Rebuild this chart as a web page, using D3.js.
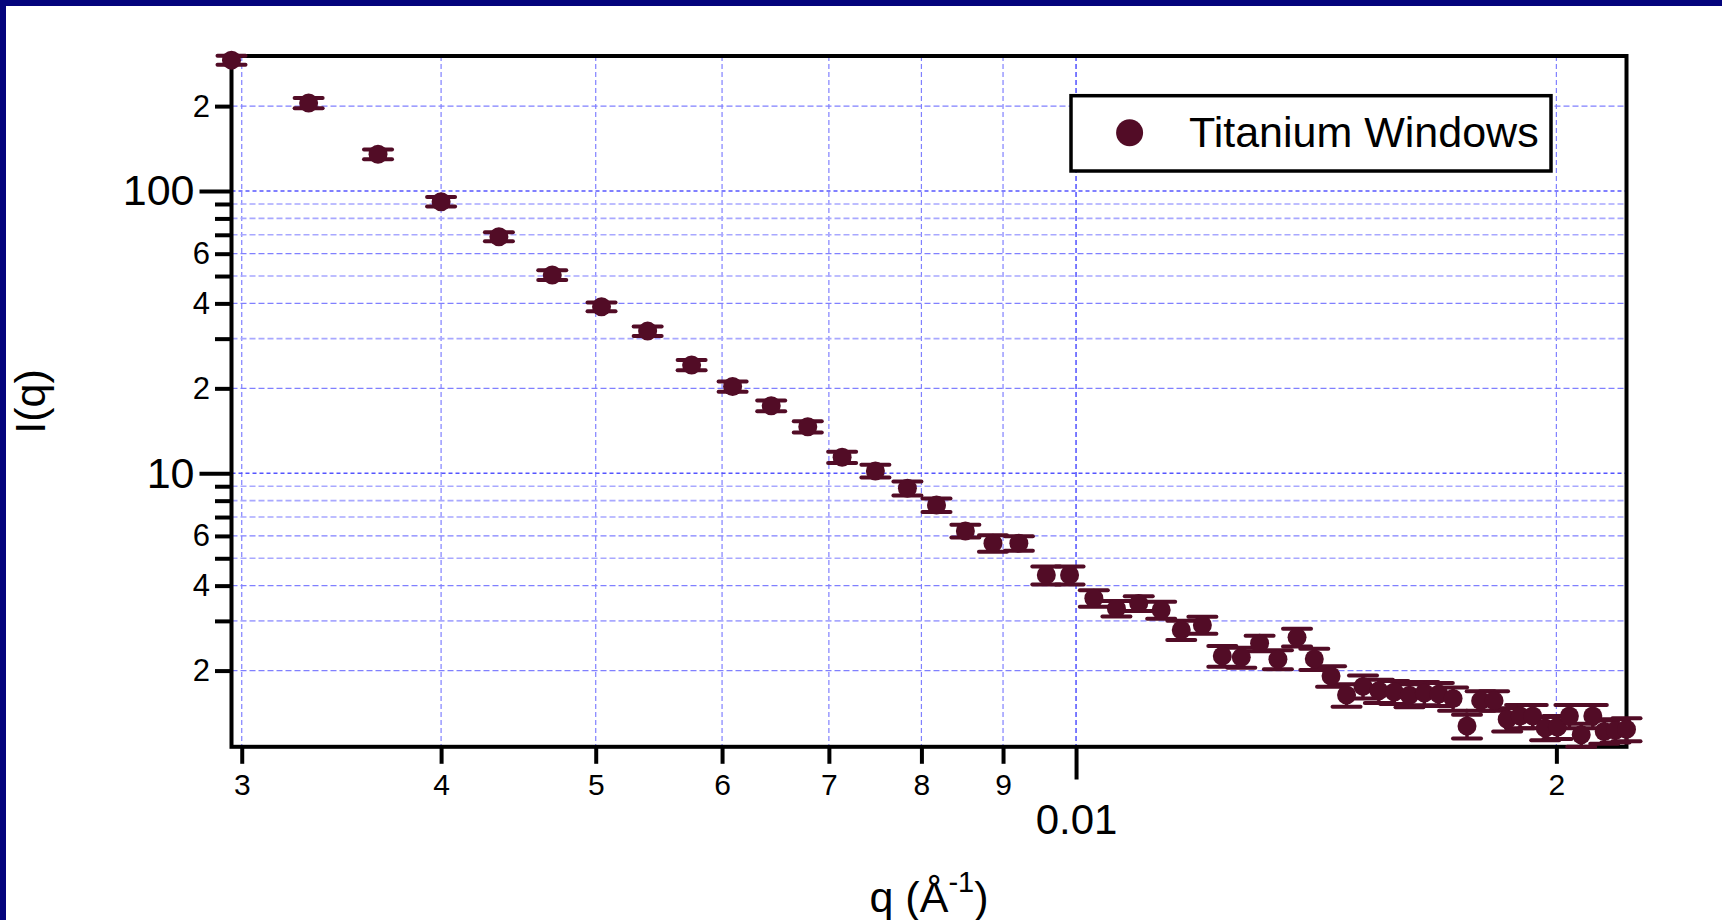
<!DOCTYPE html>
<html><head><meta charset="utf-8">
<script src="https://cdn.jsdelivr.net/npm/d3@7"></script>
<style>
html,body{margin:0;padding:0;background:#fff;overflow:hidden}
svg{display:block;font-family:"Liberation Sans",Arial,Helvetica,sans-serif}
</style></head><body>
<svg id="chart" width="1722" height="920"></svg>
<script>
// ---- data ----
const qValues = [0.002956, 0.003304, 0.003652, 0.004000, 0.004348, 0.004696, 0.005042, 0.005389, 0.005742, 0.006092,
  0.006441, 0.006790, 0.007135, 0.007486, 0.007840, 0.008176, 0.008524, 0.008870, 0.009208, 0.009580,
  0.009907, 0.01026, 0.01060, 0.010947, 0.011307, 0.01164, 0.01200, 0.01235, 0.012693, 0.013033,
  0.013382, 0.013756, 0.014103, 0.014448, 0.014775, 0.01513, 0.01548, 0.01583, 0.01618, 0.01653,
  0.01688, 0.01723, 0.01758, 0.01793, 0.01828, 0.01863, 0.01898, 0.01933, 0.01968, 0.02003,
  0.02038, 0.02073, 0.02108, 0.02143, 0.02178, 0.02213];
const intensity = [291, 205, 135, 91.7, 68.9, 50.4, 38.9, 31.9, 24.2, 20.3,
  17.36, 14.63, 11.4, 10.19, 8.85, 7.72, 6.25, 5.65, 5.65, 4.36,
  4.36, 3.61, 3.32, 3.46, 3.28, 2.785, 2.90, 2.252, 2.228, 2.50,
  2.193, 2.623, 2.20, 1.913, 1.638, 1.758, 1.696, 1.68, 1.636, 1.665,
  1.652, 1.592, 1.272, 1.565, 1.565, 1.344, 1.38, 1.38, 1.252, 1.262,
  1.38, 1.185, 1.38, 1.217, 1.228, 1.24];
const intensityErr = [10.8, 8.5, 5.4, 3.6, 2.5, 1.97, 1.4, 1.24, 1.0, 0.85,
  0.76, 0.67, 0.52, 0.53, 0.50, 0.43, 0.325, 0.38, 0.33, 0.32,
  0.32, 0.24, 0.21, 0.21, 0.23, 0.22, 0.20, 0.19, 0.18, 0.16,
  0.17, 0.19, 0.19, 0.16, 0.15, 0.165, 0.16, 0.158, 0.154, 0.157,
  0.155, 0.15, 0.123, 0.125, 0.125, 0.126, 0.13, 0.13, 0.118, 0.118,
  0.13, 0.11, 0.13, 0.115, 0.116, 0.116];
const seriesName = "Titanium Windows";

const xDomain = [0.002956, 0.02213];
const yDomain = [1.074, 301];
const xMinorTicks = [0.003, 0.004, 0.005, 0.006, 0.007, 0.008, 0.009, 0.02];
const xMinorLabels = ["3", "4", "5", "6", "7", "8", "9", "2"];
const xMajorTicks = [0.01];
const xMajorLabels = ["0.01"];
const yMajorTicks = [10, 100];
const yMajorLabels = ["10", "100"];
const yMinorTicks = [2, 3, 4, 5, 6, 7, 8, 9, 20, 30, 40, 50, 60, 70, 80, 90, 200];
const yMinorLabels = ["2", "", "4", "", "6", "", "", "", "2", "", "4", "", "6", "", "", "", "2"];

// ---- layout ----
const W = 1722, H = 920;
const pL = 231.5, pR = 1626.5, pT = 56, pB = 746.8;
const markerColor = "#520c26";

const svg = d3.select("#chart");
svg.append("rect").attr("width", W).attr("height", H).attr("fill", "#fff");
// navy frame strips
svg.append("rect").attr("x", 0).attr("y", 0).attr("width", W).attr("height", 6).attr("fill", "#04047c");
svg.append("rect").attr("x", 0).attr("y", 0).attr("width", 6).attr("height", H).attr("fill", "#04047c");

const x = d3.scaleLog().domain(xDomain).range([pL, pR]);
const y = d3.scaleLog().domain(yDomain).range([pB, pT]);

// ---- grid ----
const grid = svg.append("g");
grid.selectAll("line.vg").data(xMinorTicks).join("line")
  .attr("x1", d => x(d)).attr("x2", d => x(d)).attr("y1", pT).attr("y2", pB)
  .attr("stroke", "#8080ff").attr("stroke-width", 1.2).attr("stroke-dasharray", "5,3");
grid.selectAll("line.vgm").data(xMajorTicks).join("line")
  .attr("x1", d => x(d)).attr("x2", d => x(d)).attr("y1", pT).attr("y2", pB)
  .attr("stroke", "#5c5cff").attr("stroke-width", 1.6).attr("stroke-dasharray", "5,3");
grid.selectAll("line.hg").data(yMinorTicks).join("line")
  .attr("x1", pL).attr("x2", pR).attr("y1", d => y(d)).attr("y2", d => y(d))
  .attr("stroke", (d, i) => yMinorLabels[i] ? "#8080ff" : "#a8a8ff")
  .attr("stroke-width", (d, i) => yMinorLabels[i] ? 1.2 : 1.6)
  .attr("stroke-dasharray", "6,3");
grid.selectAll("line.hgm").data(yMajorTicks).join("line")
  .attr("x1", pL).attr("x2", pR).attr("y1", d => y(d)).attr("y2", d => y(d))
  .attr("stroke", "#5555ff").attr("stroke-width", 1.6).attr("stroke-dasharray", "4,3");

// ---- axes ----
function styleAxis(g, fs) {
  g.select(".domain").remove();
  g.selectAll(".tick line").attr("stroke", "#000").attr("stroke-width", 4);
  g.selectAll(".tick text").attr("fill", "#000").attr("font-size", fs)
    .attr("font-family", '"Liberation Sans",Arial,sans-serif');
}
svg.append("g").attr("transform", `translate(${pL},0)`)
  .call(d3.axisLeft(y).tickValues(yMinorTicks).tickSize(16.5).tickPadding(5)
    .tickFormat((d, i) => yMinorLabels[i]))
  .call(g => styleAxis(g, 31));
svg.append("g").attr("transform", `translate(${pL},0)`)
  .call(d3.axisLeft(y).tickValues(yMajorTicks).tickSize(32).tickPadding(5)
    .tickFormat((d, i) => yMajorLabels[i]))
  .call(g => styleAxis(g, 43));
svg.append("g").attr("transform", `translate(0,${pB})`)
  .call(d3.axisBottom(x).tickValues(xMinorTicks).tickSize(17).tickPadding(10)
    .tickFormat((d, i) => xMinorLabels[i]))
  .call(g => styleAxis(g, 30));
svg.append("g").attr("transform", `translate(0,${pB})`)
  .call(d3.axisBottom(x).tickValues(xMajorTicks).tickSize(32.7).tickPadding(25)
    .tickFormat((d, i) => xMajorLabels[i]))
  .call(g => styleAxis(g, 42));

// frame
svg.append("rect").attr("x", pL).attr("y", pT).attr("width", pR - pL).attr("height", pB - pT)
  .attr("fill", "none").attr("stroke", "#000").attr("stroke-width", 4);

// ---- axis titles ----
svg.append("text").attr("transform", `translate(45,${(pT + pB) / 2}) rotate(-90)`)
  .attr("text-anchor", "middle").attr("font-size", 43).attr("fill", "#000").text("I(q)");
const xt = svg.append("text").attr("x", (pL + pR) / 2).attr("y", 912)
  .attr("text-anchor", "middle").attr("font-size", 43).attr("fill", "#000");
xt.append("tspan").text("q (Å");
xt.append("tspan").attr("font-size", 29).attr("dy", -20).text("-1");
xt.append("tspan").attr("dy", 20).text(")");

// ---- data ----
const data = qValues.map((q, i) => ({ q, I: intensity[i], e: intensityErr[i] }));
const capW = 28;
const dg = svg.append("g");
dg.selectAll("line.eb").data(data).join("line")
  .attr("x1", d => x(d.q)).attr("x2", d => x(d.q))
  .attr("y1", d => y(d.I - d.e)).attr("y2", d => y(d.I + d.e))
  .attr("stroke", markerColor).attr("stroke-width", 3.5);
dg.selectAll("line.ct").data(data).join("line")
  .attr("x1", d => x(d.q) - capW / 2).attr("x2", d => x(d.q) + capW / 2)
  .attr("y1", d => y(d.I + d.e)).attr("y2", d => y(d.I + d.e))
  .attr("stroke", markerColor).attr("stroke-width", 4).attr("stroke-linecap", "round");
dg.selectAll("line.cb").data(data).join("line")
  .attr("x1", d => x(d.q) - capW / 2).attr("x2", d => x(d.q) + capW / 2)
  .attr("y1", d => y(d.I - d.e)).attr("y2", d => y(d.I - d.e))
  .attr("stroke", markerColor).attr("stroke-width", 4).attr("stroke-linecap", "round");
dg.selectAll("circle").data(data).join("circle")
  .attr("cx", d => x(d.q)).attr("cy", d => y(d.I)).attr("r", 9.5)
  .attr("fill", markerColor);

// ---- legend ----
const lg = svg.append("g");
lg.append("rect").attr("x", 1071).attr("y", 95.7).attr("width", 480).attr("height", 75.3)
  .attr("fill", "#fff").attr("stroke", "#000").attr("stroke-width", 3.5);
lg.append("circle").attr("cx", 1129.6).attr("cy", 132.8).attr("r", 13.5).attr("fill", markerColor);
lg.append("text").attr("x", 1189).attr("y", 146.7).attr("font-size", 43).attr("fill", "#000").text(seriesName);
</script>
</body></html>
